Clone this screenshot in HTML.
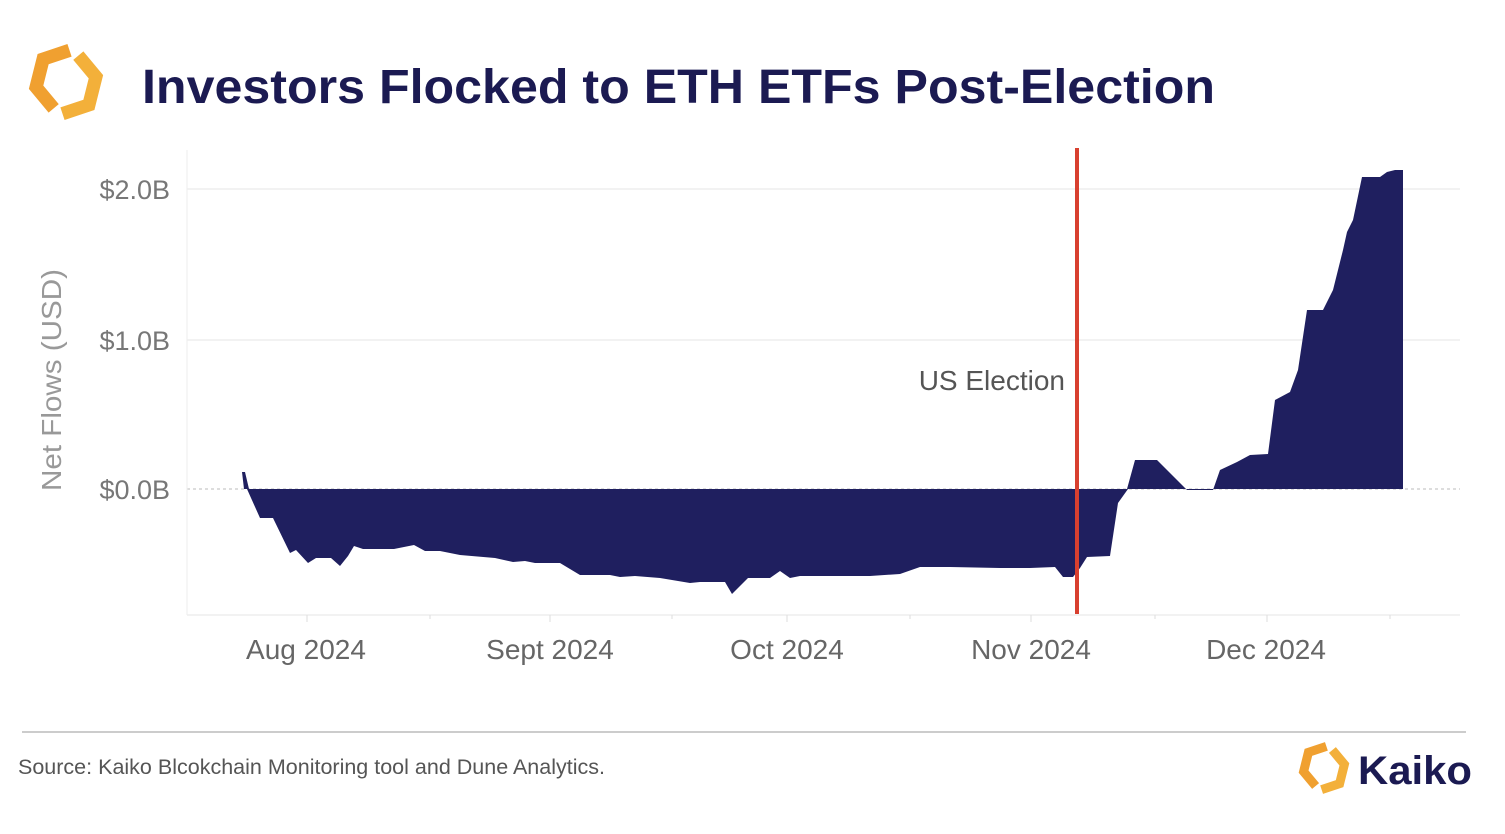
<!DOCTYPE html>
<html><head><meta charset="utf-8"><style>
body{margin:0;background:#fff;width:1505px;height:829px;overflow:hidden;font-family:"Liberation Sans",Arial,sans-serif}
</style></head><body>
<svg width="1505" height="829" viewBox="0 0 1505 829" xmlns="http://www.w3.org/2000/svg" font-family="Liberation Sans, Arial, sans-serif">
<defs>
<g id="logo">
<polyline points="4,-36 -26,-26 -34,6 -14,30" fill="none" stroke="#f0a030" stroke-width="15" stroke-linejoin="miter"/>
<polyline points="-4,36 26,26 34,-6 14,-30" fill="none" stroke="#f3b03a" stroke-width="15" stroke-linejoin="miter"/>
</g>
</defs>
<use href="#logo" transform="translate(66,82) scale(0.88)"/>
<text x="142" y="103" font-size="48" font-weight="bold" fill="#1b1a52" textLength="1073" lengthAdjust="spacingAndGlyphs">Investors Flocked to ETH ETFs Post-Election</text>
<line x1="187" y1="189" x2="1460" y2="189" stroke="#eee" stroke-width="1.5"/>
<line x1="187" y1="340" x2="1460" y2="340" stroke="#eee" stroke-width="1.5"/>
<line x1="187" y1="489" x2="1460" y2="489" stroke="#bbb" stroke-dasharray="3,3"/>
<line x1="187" y1="150" x2="187" y2="615" stroke="#eee"/>
<line x1="187" y1="615" x2="1460" y2="615" stroke="#eee" stroke-width="1.5"/>
<g stroke="#ddd">
<line x1="307" y1="615" x2="307" y2="622"/><line x1="550" y1="615" x2="550" y2="622"/><line x1="787" y1="615" x2="787" y2="622"/><line x1="1031" y1="615" x2="1031" y2="622"/><line x1="1267" y1="615" x2="1267" y2="622"/>
<line x1="430" y1="615" x2="430" y2="619"/><line x1="672" y1="615" x2="672" y2="619"/><line x1="910" y1="615" x2="910" y2="619"/><line x1="1155" y1="615" x2="1155" y2="619"/><line x1="1390" y1="615" x2="1390" y2="619"/>
</g>
<g font-size="27" fill="#777" text-anchor="end">
<text x="170" y="199">$2.0B</text><text x="170" y="350">$1.0B</text><text x="170" y="499">$0.0B</text>
</g>
<text transform="translate(61,380) rotate(-90)" font-size="28" fill="#999" text-anchor="middle" textLength="222" lengthAdjust="spacingAndGlyphs">Net Flows  (USD)</text>
<g font-size="28" fill="#666" text-anchor="middle">
<text x="306" y="659">Aug 2024</text><text x="550" y="659">Sept 2024</text><text x="787" y="659">Oct 2024</text><text x="1031" y="659">Nov 2024</text><text x="1266" y="659">Dec 2024</text>
</g>
<polygon fill="#1f1f5f" points="242,472 245,472 249,489 1128,489 1118,503 1110,556 1087,557 1080,568 1073,577 1063,577 1055,567 1030,568 1000,568 950,567 920,567 900,574 870,576 830,576 800,576 790,578 780,571 770,578 748,578 732,594 725,582 700,582 690,583 660,578 635,576 620,577 610,575 580,575 560,563 535,563 525,561 513,562 495,558 460,555 440,551 425,551 414,545 394,549 363,549 354,546 348,556 340,566 331,558 316,558 308,563 296,550 290,553 273,518 260,518 247,489 244,489"/>
<polygon fill="#1f1f5f" points="1127,489 1135,460 1157,460 1170,473 1187,490 1213,490 1220,470 1237,462 1250,455 1268,454 1275,400 1290,392 1298,370 1307,310 1323,310 1333,290 1343,250 1347,232 1353,220 1362,177 1380,177 1387,172 1395,170 1403,170 1403,489"/>
<line x1="1077" y1="148" x2="1077" y2="614" stroke="#d8402f" stroke-width="4"/>
<text x="1065" y="390" font-size="28" fill="#555" text-anchor="end">US Election</text>
<line x1="22" y1="732" x2="1466" y2="732" stroke="#ccc" stroke-width="2"/>
<text x="18" y="774" font-size="21" fill="#555" textLength="587" lengthAdjust="spacingAndGlyphs">Source: Kaiko Blcokchain Monitoring tool and Dune Analytics.</text>
<use href="#logo" transform="translate(1324,768) scale(0.6)"/>
<text x="1358" y="784" font-size="40" font-weight="bold" fill="#1b1a52" textLength="114" lengthAdjust="spacingAndGlyphs">Kaiko</text>
</svg>
</body></html>
